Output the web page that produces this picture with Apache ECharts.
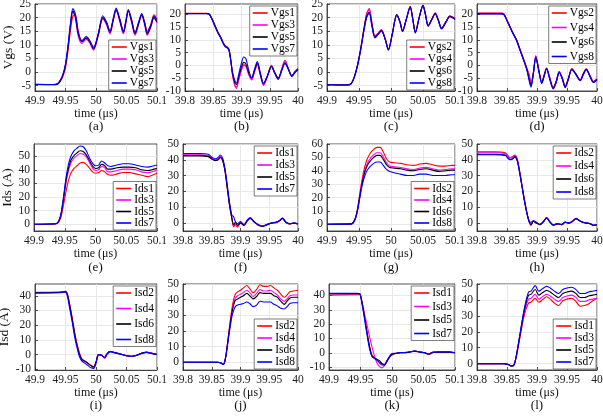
<!DOCTYPE html>
<html>
<head>
<meta charset="utf-8">
<script src="https://cdn.jsdelivr.net/npm/echarts@6/dist/echarts.min.js"></script>
<style>
  html, body { margin: 0; padding: 0; background: #fff; }
  #chart { width: 603px; height: 417px; }
</style>
</head>
<body>
<div id="chart"></div>
<script>
// tick labels
const xTicks49 = [49.9, 49.95, 50, 50.05, 50.1];
const xTicks39 = [39.8, 39.85, 39.9, 39.95, 40];
const yTicksVgsOn = [-5, 0, 5, 10, 15, 20, 25];
const yTicksVgsOff = [-10, -5, 0, 5, 10, 15, 20];
const yTicksI50 = [0, 10, 20, 30, 40, 50];
const yTicksI60 = [0, 10, 20, 30, 40, 50, 60];
const yTicksIsd = [-10, 0, 10, 20, 30, 40];

// (a) Vgs1/3/5/7 turn-on
const tA = [49.900, 49.930, 49.937, 49.942, 49.946, 49.950, 49.954, 49.958, 49.962, 49.966, 49.971, 49.977, 49.984, 49.990, 49.996, 50.004, 50.011, 50.017, 50.023, 50.028, 50.033, 50.039, 50.045, 50.049, 50.053, 50.058, 50.064, 50.070, 50.075, 50.080, 50.084, 50.090, 50.095, 50.100];
const aVgs1 = [-4.5, -4.6, -4.5, -3.3, -1.5, 1.5, 7.5, 15, 20.5, 21, 15, 11.5, 12.5, 11, 9, 14, 19.5, 18.5, 15, 19, 22.5, 19.5, 15, 18.5, 22.5, 19.5, 14.5, 18, 21, 18, 15, 17.5, 21, 19.5];
const aVgs3 = [-4.6, -4.6, -4.4, -3.0, -1, 2.5, 8.5, 16.5, 22, 20, 13, 10.5, 12, 10.5, 8, 13.5, 19.5, 17.5, 14, 18.5, 23, 18.5, 14, 18, 22.5, 18.5, 13.5, 17.5, 21, 17, 13.5, 16.5, 20, 18];
const aVgs5 = [-4.6, -4.7, -4.4, -3.0, -1, 2.5, 9, 17, 22.5, 20.5, 14, 11, 12.5, 11, 8.5, 14, 20, 18, 14.5, 19, 23, 19, 14.5, 18.5, 22.5, 19, 14, 18, 21, 17.5, 14, 17, 20, 18.5];
const aVgs7 = [-4.5, -4.6, -4.3, -2.8, -0.7, 3, 9.5, 17.5, 23.3, 21.5, 14.5, 11.5, 13, 11.5, 9, 14.5, 20.7, 18.5, 15, 19.5, 23.5, 19.5, 15, 19, 23, 19.5, 14.5, 18.5, 21.5, 18, 14.5, 17.5, 20.5, 19];

// (b) Vgs1/3/5/7 turn-off
const tB = [39.800, 39.838, 39.843, 39.848, 39.853, 39.858, 39.863, 39.867, 39.871, 39.875, 39.878, 39.881, 39.884, 39.888, 39.891, 39.895, 39.900, 39.904, 39.908, 39.913, 39.918, 39.923, 39.928, 39.933, 39.939, 39.946, 39.953, 39.959, 39.965, 39.971, 39.977, 39.983, 39.989, 39.995, 40.000];
const bVgs1 = [20.4, 20.4, 20.1, 18.2, 15.7, 13.2, 11.2, 9.2, 7.7, 7.1, 6.2, 2.2, -3.5, -7.5, -8.5, -5.5, -1.5, 0.2, -0.2, -3.5, -5.5, -2.5, 0.5, -3.3, -7.5, -4, 0, -2.8, -5, -1.5, 2, -1.2, -4, -2.2, -1.2];
const bVgs3 = [20.3, 20.3, 20, 18.1, 15.6, 13.1, 11.1, 9.1, 7.6, 7, 6.1, 2.1, -3.5, -7.8, -9, -5.8, -1.8, 0, -0.5, -3.7, -5.7, -2.5, 0.3, -3.5, -7.8, -4.3, -0.2, -3, -5.3, -1.8, 1.8, -1.3, -4.2, -2.4, -1.3];
const bVgs5 = [20.3, 20.3, 20, 18, 15.5, 13, 11, 9, 7.5, 7, 6, 2, -3, -6.5, -7.5, -4.5, -0.5, 1.2, 0.5, -3, -5, -2, 1, -3, -7.2, -4, -0.3, -3, -5, -2, 1, -1.5, -4, -2.5, -1.5];
const bVgs7 = [20.2, 20.2, 19.9, 17.8, 15.2, 12.8, 10.8, 8.8, 7.3, 6.8, 5.8, 1.8, -2.5, -5.8, -7, -3.5, 1, 3.3, 2.5, -2, -4.8, -1.5, 1.5, -2.5, -7, -4, -0.5, -3.2, -5.5, -2.2, 0.8, -1.6, -4.3, -2.7, -1.7];

// (c) Vgs2/4/6/8 turn-on
const tC = [49.900, 49.932, 49.938, 49.943, 49.948, 49.953, 49.958, 49.962, 49.966, 49.970, 49.975, 49.980, 49.985, 49.991, 49.996, 50.002, 50.009, 50.014, 50.018, 50.024, 50.030, 50.034, 50.038, 50.044, 50.050, 50.054, 50.058, 50.064, 50.069, 50.074, 50.079, 50.086, 50.092, 50.100];
const cVgs2 = [-4.6, -4.7, -4.2, -1.6, 2.8, 9, 16.5, 21.5, 23.3, 18.5, 13.3, 14.3, 15.5, 12.3, 8.5, 14, 21, 18.5, 15.3, 19.5, 24, 19.8, 14.8, 20, 24.5, 21, 17.2, 19.5, 21.8, 19.2, 16.2, 18.5, 20.7, 19.8];
const cVgs4 = [-4.7, -4.8, -4.3, -1.7, 2.7, 8.8, 16, 21, 23, 18, 13, 14.2, 15.5, 12, 8.2, 14, 21.2, 18.5, 15, 19.5, 24.2, 19.5, 14.5, 20, 24.6, 21, 17, 19.5, 21.7, 19, 16, 18.5, 20.6, 19.6];
const cVgs6 = [-4.7, -4.8, -4.2, -1.5, 3, 9, 16, 20.5, 22, 17.5, 12.8, 14, 15.3, 12, 8.3, 14, 21, 18.5, 15, 19.5, 24, 19.5, 14.5, 20, 24.5, 21, 17, 19.5, 21.5, 19, 16, 18.5, 20.5, 19.5];
const cVgs8 = [-4.7, -4.8, -4.3, -1.8, 2.5, 8.5, 15.5, 20, 21.7, 17, 12.5, 13.8, 15, 11.8, 8, 13.8, 20.8, 18.3, 14.8, 19.3, 23.8, 19.3, 14.3, 19.8, 24.3, 20.8, 16.8, 19.3, 21.3, 18.8, 15.8, 18.3, 20.3, 19.3];

// (d) Vgs2/4/6/8 turn-off
const tD = [39.800, 39.840, 39.845, 39.850, 39.855, 39.860, 39.866, 39.871, 39.877, 39.883, 39.887, 39.890, 39.894, 39.898, 39.903, 39.908, 39.912, 39.916, 39.921, 39.927, 39.932, 39.937, 39.942, 39.947, 39.952, 39.958, 39.965, 39.972, 39.977, 39.982, 39.988, 39.994, 40.000];
const dVgs2 = [20.5, 20.5, 20.1, 17.8, 15.2, 12.7, 10, 6.8, 3, -1, -3.5, -6.5, -2.5, 3.8, -1.5, -6.5, -3.5, -1, -4.5, -8.5, -6, -2.3, -4.7, -8, -5.2, -1.2, -3.3, -5.8, -3.2, -1.3, -3.8, -6.3, -5.2];
const dVgs4 = [20.4, 20.4, 20, 17.7, 15.1, 12.6, 9.9, 6.7, 2.8, -1.3, -4.5, -7.5, -2.8, 3.7, -1.8, -6.8, -3.8, -1.1, -4.8, -8.8, -6.3, -2.5, -4.9, -8.3, -5.4, -1.4, -3.4, -5.9, -3.4, -1.4, -3.9, -6.4, -5.3];
const dVgs6 = [20.2, 20.2, 19.8, 17.5, 15, 12.5, 9.8, 6.5, 2.6, -1.5, -5.5, -8, -3, 3, -2, -7, -4, -1.2, -5, -9, -6.5, -2.7, -5, -8.5, -5.5, -1.5, -3.5, -5.8, -3.5, -1.5, -4, -6.5, -5.5];
const dVgs8 = [20.1, 20.1, 19.7, 17.4, 14.9, 12.4, 9.7, 6.4, 2.5, -1.7, -6, -8.5, -3.2, 3.3, -2.2, -7, -4.2, -1.4, -5.2, -9.2, -6.7, -2.8, -5.2, -8.7, -5.7, -1.7, -3.7, -6, -3.7, -1.7, -4.2, -6.7, -5.7];

// (e) Ids1/3/5/7 turn-on
const tE = [49.900, 49.935, 49.940, 49.944, 49.948, 49.952, 49.956, 49.960, 49.965, 49.970, 49.975, 49.980, 49.985, 49.990, 49.995, 50.000, 50.005, 50.010, 50.015, 50.020, 50.025, 50.035, 50.045, 50.055, 50.065, 50.075, 50.085, 50.095, 50.100];
const eIds1 = [0, 0.2, 1.5, 5.5, 14, 24, 32, 37.5, 41, 43, 45, 45.5, 44, 41.5, 38.5, 37.5, 38, 39.5, 38.5, 36.5, 36, 37, 38, 38, 37, 36, 35, 36.5, 37.5];
const eIds3 = [0, 0.3, 2, 7, 18, 30, 39, 45, 48.5, 50.5, 52, 51.5, 49.5, 45.5, 41.5, 39.5, 40, 42.5, 41.5, 38.5, 38.5, 39.5, 40.5, 40.5, 40, 38.5, 38, 39, 39.5];
const eIds5 = [0, 0.3, 2, 7.5, 19, 32, 41, 47, 50.5, 52.5, 54, 53.5, 51, 47, 43, 41, 41.5, 44, 43, 40.5, 40.5, 41.5, 42, 42, 41.5, 40, 39.5, 40.5, 41];
const eIds7 = [0, 0.3, 2, 8, 20, 34, 44, 50, 54, 56, 57.5, 57, 54, 49, 45, 43, 43.5, 46.5, 45, 43, 42.5, 43.5, 44.5, 44.5, 43.5, 42.5, 42, 43, 43.5];

// (f) Ids1/3/5/7 turn-off
const tF = [39.800, 39.830, 39.844, 39.850, 39.856, 39.861, 39.865, 39.869, 39.873, 39.877, 39.881, 39.885, 39.888, 39.891, 39.895, 39.900, 39.906, 39.912, 39.917, 39.923, 39.930, 39.938, 39.946, 39.954, 39.962, 39.968, 39.973, 39.979, 39.986, 39.993, 40.000];
const fIds1 = [42.8, 42.8, 42.3, 40.8, 39.7, 40.2, 41.7, 39.7, 33.5, 22.5, 11.5, 3, -2.5, -1, -2.5, 0.5, -1.3, 1.7, 3.3, 1, -1, -2, -1, 0, 0.3, 1.5, 3, 0.3, -0.5, 0, -0.5];
const fIds3 = [43.2, 43.2, 42.7, 41.2, 40, 40.6, 42, 40, 33.5, 22.5, 11.5, 3.3, -1.5, -0.5, -1.8, 0.3, -1.3, 1.7, 3.2, 1, -1, -2.2, -1.2, 0, 0.4, 1.6, 3.1, 0.4, -0.5, 0, -0.5];
const fIds5 = [42.5, 42.5, 42, 40.5, 39.5, 40, 41.5, 39.5, 33, 22, 11, 3, -1, 0.5, -1.5, 0, -1.5, 1.5, 3, 1, -1, -2, -1, 0, 0.5, 1.5, 3, 0.5, -0.5, 0, -0.5];
const fIds7 = [44, 44, 43.5, 41.8, 40.7, 41.5, 43, 41, 34.5, 24, 13, 5, 4, 1, -0.5, 1, -1, 2, 3.3, 1.2, -0.8, -1.8, -0.8, 0.2, 0.6, 1.7, 3.2, 0.6, -0.3, 0.1, -0.4];

// (g) Ids2/4/6/8 turn-on
const tG = [49.900, 49.938, 49.943, 49.947, 49.951, 49.955, 49.959, 49.963, 49.968, 49.973, 49.978, 49.983, 49.988, 49.993, 49.998, 50.005, 50.015, 50.025, 50.035, 50.045, 50.055, 50.065, 50.075, 50.085, 50.095, 50.100];
const gIds2 = [0, 0.3, 3, 10, 22, 34, 43, 49, 53.5, 56, 57.5, 57.5, 54, 49, 46.5, 46, 45.5, 44.5, 44, 45, 45.5, 44.5, 43.5, 43.5, 44, 44];
const gIds4 = [0, 0.3, 3, 9.5, 21, 32, 40, 45.5, 49.5, 52, 53.5, 53.5, 50.5, 46, 43.5, 43, 42.5, 41.5, 41, 42, 42.5, 41.5, 40.5, 41, 41.5, 41.5];
const gIds6 = [0, 0.3, 3, 9, 20, 31, 39, 44, 47.5, 50, 51.5, 51.5, 48.5, 44.5, 42.5, 42, 41.5, 40.5, 40, 41, 41.5, 40.5, 39.5, 40, 40.5, 40.5];
const gIds8 = [0, 0.3, 2.5, 8.5, 19, 29, 36, 40.5, 43.5, 45.5, 46.5, 46.5, 44, 41, 39.5, 38.5, 37.5, 36.5, 36.5, 37.5, 37.5, 36.5, 36.5, 36.5, 37, 37];

// (h) Ids2/4/6/8 turn-off
const tH = [39.800, 39.830, 39.847, 39.851, 39.855, 39.859, 39.863, 39.867, 39.871, 39.875, 39.879, 39.883, 39.887, 39.890, 39.894, 39.899, 39.905, 39.911, 39.916, 39.921, 39.927, 39.934, 39.941, 39.947, 39.953, 39.959, 39.965, 39.971, 39.977, 39.983, 39.989, 39.994, 40.000];
const hIds2 = [45, 45, 44.5, 43, 41.5, 42, 43, 40.5, 33, 24, 15, 7, 1, -1.5, 1.5, 0, -1, 1, 3.5, 1, -1.5, -0.5, -1, 0.5, 0, 1, 3, 1.5, 0.5, 0, -0.5, -1.5, -1];
const hIds4 = [44.5, 44.5, 44, 42.7, 41.2, 41.7, 42.7, 40.2, 32.7, 23.7, 14.7, 6.8, 1, -1.2, 1.3, 0, -1, 1, 3.3, 1, -1.3, -0.5, -1, 0.5, 0, 1, 2.8, 1.4, 0.4, 0, -0.5, -1.4, -1];
const hIds6 = [43.3, 43.3, 42.8, 41.3, 40, 40.5, 41.7, 39.5, 32, 23, 14, 6.5, 0.8, -1, 1, 0, -1, 1, 3.2, 1, -1.2, -0.5, -1, 0.5, 0, 1, 2.8, 1.4, 0.4, 0, -0.5, -1.4, -1];
const hIds8 = [43.5, 43.5, 43, 41.5, 40.2, 40.7, 42, 39.7, 32.3, 23.3, 14.3, 6.6, 0.8, 0.5, 1.5, 0.5, -0.8, 1.2, 3.3, 1.1, -1.1, -0.3, -0.8, 0.6, 0.1, 1.1, 2.9, 1.5, 0.5, 0.1, -0.4, -1.3, -0.9];

// (i) Isd2/4/6/8
const tI = [49.900, 49.940, 49.950, 49.953, 49.957, 49.961, 49.965, 49.969, 49.973, 49.977, 49.982, 49.987, 49.992, 49.996, 50.000, 50.004, 50.009, 50.014, 50.018, 50.023, 50.028, 50.035, 50.043, 50.051, 50.059, 50.067, 50.075, 50.083, 50.091, 50.100];
const iIsd2 = [42.3, 42.5, 43, 41.5, 34, 25, 15, 7, 1, -3, -4.5, -6, -7.5, -8.5, -5.5, -0.5, -0.3, -2.5, 0, 2.2, 1.8, 1, 0, -1, -1.3, -0.5, 1, 1.7, 1, 0];
const iIsd4 = [42.2, 42.4, 43, 41.3, 33.5, 24.5, 14.5, 6.5, 0.5, -3.2, -4.6, -6.2, -7.7, -8.7, -5.3, -0.3, -0.4, -2.3, 0.2, 2.1, 1.7, 0.9, 0, -0.9, -1.2, -0.5, 0.9, 1.6, 0.9, 0];
const iIsd6 = [42, 42.2, 42.8, 41, 33, 24, 14, 6, 0, -3.5, -4.5, -6, -7.5, -8.5, -5, 0, -0.5, -2, 0.5, 2, 1.5, 0.8, 0, -0.8, -1.2, -0.5, 0.8, 1.5, 0.8, 0];
const iIsd8 = [41.8, 42, 42.5, 40, 31, 22, 12, 4.5, -1.5, -4.5, -6, -7.5, -9, -9.5, -6, 0, -0.5, -2, 0.5, 2, 1.5, 0.8, 0, -0.8, -1.2, -0.5, 0.8, 1.5, 0.8, 0];

// (j) Isd2/4/6/8
const tJ = [39.800, 39.860, 39.866, 39.870, 39.873, 39.876, 39.879, 39.882, 39.885, 39.888, 39.891, 39.895, 39.900, 39.905, 39.911, 39.916, 39.922, 39.928, 39.934, 39.940, 39.946, 39.952, 39.958, 39.964, 39.970, 39.976, 39.981, 39.986, 39.992, 40.000];
const jIsd2 = [0, 0, -0.5, -1.5, 1, 8, 17, 26, 34, 40, 43.5, 45, 46, 47.5, 49, 47, 44.5, 46.5, 49.5, 48.5, 48.5, 49, 47.5, 46, 43.5, 41.5, 43, 45, 45.5, 46];
const jIsd4 = [0, 0, -0.5, -1.5, 1, 8, 16.5, 25, 32.5, 38, 41, 42.5, 43.5, 44.5, 46, 44.5, 42, 44, 46.5, 45.5, 45.5, 46, 44.5, 43, 40.5, 39, 40.5, 42.5, 43, 43];
const jIsd6 = [0, 0, -0.5, -1.5, 1, 7.5, 16, 24, 31.5, 36.5, 39.5, 40.5, 41.5, 42.5, 44, 42.5, 40.5, 42, 44.5, 44, 44, 44, 42.5, 41.5, 39, 37, 39, 41, 41.5, 41.5];
const jIsd8 = [0, 0, -0.5, -1.5, 0.8, 7, 15, 22.5, 29, 33, 35.5, 36.5, 37, 37.5, 38.5, 37.5, 35.5, 36.5, 39, 38.5, 38.5, 38.5, 37, 36, 34.5, 34, 35.5, 37.5, 38, 38];

// (k) Isd1/3/5/7
const tK = [49.900, 49.945, 49.949, 49.952, 49.956, 49.960, 49.964, 49.968, 49.972, 49.976, 49.980, 49.984, 49.988, 49.992, 49.996, 50.000, 50.006, 50.013, 50.020, 50.028, 50.036, 50.044, 50.052, 50.058, 50.065, 50.073, 50.082, 50.091, 50.100];
const kIsd1 = [40.2, 40.5, 40.5, 36, 26.5, 15.5, 5.5, -1.5, -3.5, -5, -6.5, -7.5, -8, -5.5, -3, -1.5, -0.3, 0, 0.2, 0.5, 1.3, 0.6, 0, -1.2, 0.3, 0.5, 0.6, 0.5, 0];
const kIsd3 = [41, 41.2, 41, 36.5, 28, 20, 12, 4.5, -2, -7, -9.5, -10.5, -9, -6, -3, -1, -0.5, 0, 0, 0.5, 1.2, 0.5, 0, -1, 0.3, 0.5, 0.5, 0.5, 0];
const kIsd5 = [41.2, 41.3, 41, 36, 26, 15, 5, -2, -3.5, -4.5, -5.5, -7.5, -8.5, -6, -3, -1, -0.5, 0, 0, 0.5, 1.2, 0.5, 0, -1, 0.3, 0.5, 0.5, 0.5, 0];
const kIsd7 = [41.5, 41.5, 41.2, 35, 24.5, 13.5, 3.5, -2.5, -4, -5, -7, -8.5, -8.5, -5.5, -2.5, -0.5, -0.3, 0.2, 0.2, 0.7, 1.3, 0.6, 0.1, -0.8, 0.4, 0.6, 0.6, 0.6, 0.1];

// (l) Isd1/3/5/7
const tL = [39.800, 39.845, 39.852, 39.858, 39.862, 39.866, 39.870, 39.874, 39.878, 39.882, 39.886, 39.890, 39.897, 39.903, 39.909, 39.916, 39.922, 39.929, 39.936, 39.943, 39.950, 39.958, 39.965, 39.972, 39.979, 39.986, 39.993, 40.000];
const lIsd1 = [0, 0, -0.5, -1.5, -0.5, 5, 13, 21.5, 29, 34.5, 38, 38.5, 41, 38.5, 40, 42, 40.5, 38, 36.5, 39.5, 40.5, 41, 39, 36, 36.5, 37.5, 39.5, 41];
const lIsd3 = [0, 0, -0.5, -1.5, -0.5, 5.5, 14, 22.5, 30.5, 36.5, 40.5, 41, 43.5, 40.5, 42, 43.5, 42.5, 40.5, 39, 41.5, 42.5, 43, 41.5, 39, 39, 40, 40.5, 41];
const lIsd5 = [0, 0, -0.5, -1.5, -0.5, 6, 14.5, 23.5, 32, 38.5, 43, 43.5, 46.5, 43, 44.5, 46, 45, 43, 41.5, 44, 45, 45.5, 44, 41.5, 41.5, 42.5, 43, 43.5];
const lIsd7 = [0, 0, -0.5, -1.5, -0.5, 6, 15, 24, 33, 40, 45, 45.5, 49, 45.5, 47, 48.5, 47.5, 45.5, 44, 46.5, 47.5, 48, 46.5, 44, 44, 45, 45.5, 46];

const W = 603, H = 417;
const colors = ['#ff0000', '#ff00ff', '#000000', '#0000ff'];
const serif = '"Liberation Serif", "Times New Roman", serif';
const axisColor = '#262626';

// grid box as [left, top, right, bottom] in px, legend corner + gap between rows
const panels = [
    { tag: '(a)', box: [35, 4, 157, 91], t: tA, xt: xTicks49, y: [-7, 25], yt: yTicksVgsOn, yName: 'Vgs (V)',
      names: ['Vgs1', 'Vgs3', 'Vgs5', 'Vgs7'], data: [aVgs1, aVgs3, aVgs5, aVgs7], corner: 'br', gap: 0 },
    { tag: '(b)', box: [185, 4, 298, 91], t: tB, xt: xTicks39, y: [-10, 24], yt: yTicksVgsOff,
      names: ['Vgs1', 'Vgs3', 'Vgs5', 'Vgs7'], data: [bVgs1, bVgs3, bVgs5, bVgs7], corner: 'tr', gap: 0 },
    { tag: '(c)', box: [327, 4, 455, 91], t: tC, xt: xTicks49, y: [-7, 25], yt: yTicksVgsOn,
      names: ['Vgs2', 'Vgs4', 'Vgs6', 'Vgs8'], data: [cVgs2, cVgs4, cVgs6, cVgs8], corner: 'br', gap: 0 },
    { tag: '(d)', box: [477, 4, 597, 91], t: tD, xt: xTicks39, y: [-10, 24], yt: yTicksVgsOff,
      names: ['Vgs2', 'Vgs4', 'Vgs6', 'Vgs8'], data: [dVgs2, dVgs4, dVgs6, dVgs8], corner: 'tr', gap: 2.5 },
    { tag: '(e)', box: [34, 144, 157, 231], t: tE, xt: xTicks49, y: [-5, 59], yt: yTicksI50, yName: 'Ids (A)',
      names: ['Ids1', 'Ids3', 'Ids5', 'Ids7'], data: [eIds1, eIds3, eIds5, eIds7], corner: 'br', gap: -0.5 },
    { tag: '(f)', box: [183, 144, 298, 231], t: tF, xt: xTicks39, y: [-5, 50], yt: yTicksI50,
      names: ['Ids1', 'Ids3', 'Ids5', 'Ids7'], data: [fIds1, fIds3, fIds5, fIds7], corner: 'tr', gap: 0 },
    { tag: '(g)', box: [327, 144, 455, 231], t: tG, xt: xTicks49, y: [-5, 60], yt: yTicksI60,
      names: ['Ids2', 'Ids4', 'Ids6', 'Ids8'], data: [gIds2, gIds4, gIds6, gIds8], corner: 'br', gap: -0.5 },
    { tag: '(h)', box: [477, 144, 597, 231], t: tH, xt: xTicks39, y: [-5, 50], yt: yTicksI50,
      names: ['Ids2', 'Ids4', 'Ids6', 'Ids8'], data: [hIds2, hIds4, hIds6, hIds8], corner: 'tr', gap: 1 },
    { tag: '(i)', box: [35, 284, 157, 370], t: tI, xt: xTicks49, y: [-10.5, 48], yt: yTicksIsd, yName: 'Isd (A)',
      names: ['Isd2', 'Isd4', 'Isd6', 'Isd8'], data: [iIsd2, iIsd4, iIsd6, iIsd8], corner: 'tr', gap: 3.5 },
    { tag: '(j)', box: [183, 284, 298, 370], t: tJ, xt: xTicks39, y: [-5, 50], yt: yTicksI50,
      names: ['Isd2', 'Isd4', 'Isd6', 'Isd8'], data: [jIsd2, jIsd4, jIsd6, jIsd8], corner: 'br', gap: 0 },
    { tag: '(k)', box: [329, 284, 455, 370], t: tK, xt: xTicks49, y: [-12, 48], yt: yTicksIsd,
      names: ['Isd1', 'Isd3', 'Isd5', 'Isd7'], data: [kIsd1, kIsd3, kIsd5, kIsd7], corner: 'tr', gap: 1.5 },
    { tag: '(l)', box: [477, 284, 597, 370], t: tL, xt: xTicks39, y: [-4, 50], yt: yTicksI50,
      names: ['Isd1', 'Isd3', 'Isd5', 'Isd7'], data: [lIsd1, lIsd3, lIsd5, lIsd7], corner: 'br', gap: 0 }
];

const tagRowY = [127, 268, 406];

const grid = [], xAxis = [], yAxis = [], legend = [], series = [], graphic = [];

panels.forEach((p, i) => {
    const [l, t, r, b] = p.box;
    grid.push({
        left: l, top: t, width: r - l, height: b - t,
        show: true, borderColor: axisColor, borderWidth: 0.8,
        backgroundColor: '#fff', outerBoundsMode: 'none'
    });
    xAxis.push({
        type: 'value', gridIndex: i,
        min: p.xt[0], max: p.xt[p.xt.length - 1],
        name: 'time (μs)', nameLocation: 'middle', nameGap: 17,
        nameTextStyle: { fontFamily: serif, fontSize: 12, color: '#111' },
        axisLine: { show: true, onZero: false, lineStyle: { color: axisColor, width: 0.8 } },
        axisTick: { show: true, inside: true, length: 3, customValues: p.xt, lineStyle: { color: axisColor, width: 0.8 } },
        axisLabel: { customValues: p.xt, margin: 4, fontFamily: serif, fontSize: 11.5, color: '#222' },
        splitLine: { show: true, lineStyle: { color: '#e2e2e2', width: 0.8 } }
    });
    yAxis.push({
        type: 'value', gridIndex: i, min: p.y[0], max: p.y[1],
        name: p.yName || '', nameLocation: 'middle', nameGap: 18,
        nameTextStyle: { fontFamily: serif, fontSize: 13.5, color: '#111' },
        axisLine: { show: true, onZero: false, lineStyle: { color: axisColor, width: 0.8 } },
        axisTick: { show: true, inside: true, length: 3, customValues: p.yt, lineStyle: { color: axisColor, width: 0.8 } },
        axisLabel: { customValues: p.yt, margin: 4, fontFamily: serif, fontSize: 11.5, color: '#222' },
        splitLine: { show: true, lineStyle: { color: '#e2e2e2', width: 0.8 } }
    });

    const lg = {
        data: p.names, orient: 'vertical', icon: 'rect',
        itemWidth: 15, itemHeight: 1.6, itemGap: p.gap,
        right: W - r + 1,
        backgroundColor: '#fff', borderColor: axisColor, borderWidth: 0.6, borderRadius: 0,
        padding: [1, 2, 1, 3], selectedMode: false,
        textStyle: { fontFamily: serif, fontSize: 11.5, color: '#000', padding: [0, 0, 0, -2] }
    };
    if (p.corner === 'tr') lg.top = t + 2; else lg.bottom = H - b + 1;
    legend.push(lg);

    p.names.forEach((nm, k) => {
        series.push({
            type: 'line', name: nm, xAxisIndex: i, yAxisIndex: i,
            data: p.t.map((x, j) => [x, p.data[k][j]]),
            symbol: 'none', smooth: 0.3, silent: true,
            color: colors[k],
            lineStyle: { width: 1.1, color: colors[k] }
        });
    });

    graphic.push({
        type: 'text', x: (l + r) / 2, y: tagRowY[Math.floor(i / 4)],
        style: { text: p.tag, font: '13px ' + serif, fill: '#111', align: 'center', verticalAlign: 'middle' }
    });
});

const chart = echarts.init(document.getElementById('chart'), null, { renderer: 'canvas' });
chart.setOption({
    animation: false,
    backgroundColor: '#fff',
    textStyle: { fontFamily: serif },
    grid, xAxis, yAxis, legend, series, graphic
});
</script>
</body>
</html>
